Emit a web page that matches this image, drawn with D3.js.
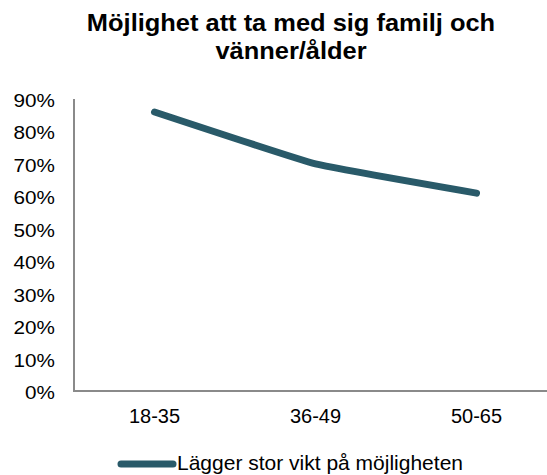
<!DOCTYPE html>
<html>
<head>
<meta charset="utf-8">
<script src="https://cdn.jsdelivr.net/npm/d3@7/dist/d3.min.js"></script>
<style>
  html, body { margin: 0; padding: 0; background: #fff; }
  svg { display: block; font-family: "Liberation Sans", Arial, sans-serif; }
</style>
</head>
<body>
<svg id="chart" width="547" height="475"></svg>
<script>
// Chart data
const titleLines = ["Möjlighet att ta med sig familj och", "vänner/ålder"];
const categories = ["18-35", "36-49", "50-65"];
const values = [0.86, 0.70, 0.61];
const seriesName = "Lägger stor vikt på möjligheten";
const yTicks = [0, 0.1, 0.2, 0.3, 0.4, 0.5, 0.6, 0.7, 0.8, 0.9];

const lineColor = "#295a69";
const axisColor = "#8a8a8a";

const svg = d3.select("#chart");

const x = d3.scalePoint().domain(categories).range([74, 557]).padding(0.5);
const y = d3.scaleLinear().domain([0, 0.9]).range([391, 99]);

// Text helper: horizontally scaled label anchored at (px, py)
function label(g, px, py, txt, size, anchor, sx, weight) {
  g.append("g")
    .attr("transform", `translate(${px},${py}) scale(${sx},1)`)
    .append("text")
    .attr("text-anchor", anchor)
    .attr("font-size", size)
    .attr("font-weight", weight || "normal")
    .attr("fill", "#000")
    .text(txt);
}

// Title
titleLines.forEach((t, i) => label(svg, 291, 31 + i * 28, t, 24, "middle", 1.06, "bold"));

// Y axis labels
const fmt = d3.format(".0%");
const yAxisG = svg.append("g");
yTicks.forEach(v => label(yAxisG, 55, y(v) + 8, fmt(v), 18, "end", 1.15));

// X axis labels
const xAxisG = svg.append("g");
categories.forEach(c => label(xAxisG, x(c), 423, c, 20, "middle", 1.0));

// Axis lines
svg.append("line")
  .attr("x1", 74).attr("x2", 74)
  .attr("y1", y(0.9)).attr("y2", y(0))
  .attr("stroke", axisColor).attr("stroke-width", 2);
svg.append("line")
  .attr("x1", 73).attr("x2", 557)
  .attr("y1", y(0)).attr("y2", y(0))
  .attr("stroke", axisColor).attr("stroke-width", 2);

// Series line (lightly smoothed)
const line = d3.line()
  .x((d, i) => x(categories[i]))
  .y(d => y(d))
  .curve(d3.curveCardinal.tension(0.7));

svg.append("path")
  .datum(values)
  .attr("d", line)
  .attr("fill", "none")
  .attr("stroke", lineColor)
  .attr("stroke-width", 7)
  .attr("stroke-linecap", "round")
  .attr("stroke-linejoin", "round");

// Legend
svg.append("line")
  .attr("x1", 121).attr("x2", 173)
  .attr("y1", 464).attr("y2", 464)
  .attr("stroke", lineColor)
  .attr("stroke-width", 7)
  .attr("stroke-linecap", "round");
label(svg, 177, 470, seriesName, 21, "start", 1.0);
</script>
</body>
</html>
